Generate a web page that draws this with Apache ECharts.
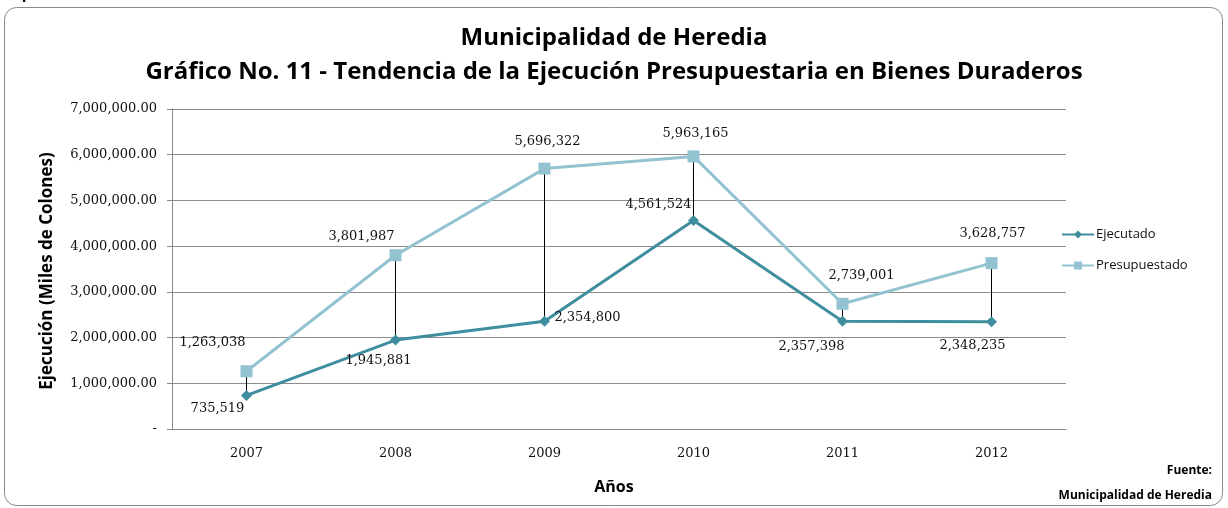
<!DOCTYPE html>
<html>
<head>
<meta charset="utf-8">
<script src="https://cdn.jsdelivr.net/npm/echarts@6/dist/echarts.min.js"></script>
<style>
html,body{margin:0;padding:0;background:#fff;}
#chart{width:1228px;height:508px;}
</style>
</head>
<body>
<div id="chart"></div>
<script>
// ---- data ----
const years = ['2007', '2008', '2009', '2010', '2011', '2012'];
const ejecutado = [735519, 1945881, 2354800, 4561524, 2357398, 2348235];
const presupuestado = [1263038, 3801987, 5696322, 5963165, 2739001, 3628757];
const yTicks = [0, 1000000, 2000000, 3000000, 4000000, 5000000, 6000000, 7000000];

// ---- label layout (pixel offsets, not data) ----
const presOffsets = [[-34, -16], [-34, -6], [3, -14], [2, -10], [19, -16], [1, -17]];
const ejecOffsets = [[-29, 25], [-17, 33], [43, 8], [-35, -4], [-31, 37], [-19, 36]];

const fmtInt = v => Math.round(v).toLocaleString('en-US');
const fmtTick = v => v === 0 ? '-' : v.toLocaleString('en-US', {minimumFractionDigits: 2, maximumFractionDigits: 2});

const serif = 'DejaVu Serif';
const sans = 'Open Sans';
const cEj = '#3f8e9f';
const cPr = '#93c3d1';

const chart = echarts.init(document.getElementById('chart'), null, {renderer: 'canvas'});

const labelBase = {show: true, position: 'top', distance: 0, fontFamily: serif, fontSize: 13, color: '#111'};

chart.setOption({
  animation: false,
  backgroundColor: '#fff',
  grid: {left: 172, right: 162, top: 109, bottom: 79},
  xAxis: {
    type: 'category',
    data: years,
    boundaryGap: true,
    axisLine: {lineStyle: {color: '#888', width: 1}},
    axisTick: {show: false},
    axisLabel: {fontFamily: serif, fontSize: 13, color: '#111', margin: 18}
  },
  yAxis: {
    type: 'value',
    min: yTicks[0],
    max: yTicks[yTicks.length - 1],
    interval: yTicks[1] - yTicks[0],
    axisLine: {show: true, lineStyle: {color: '#888'}},
    axisTick: {show: true, length: 5, lineStyle: {color: '#888'}},
    splitLine: {lineStyle: {color: '#8c8c8c', width: 1}},
    axisLabel: {fontFamily: serif, fontSize: 13, color: '#111', margin: 15, formatter: fmtTick}
  },
  legend: {
    orient: 'vertical',
    left: 1056,
    top: 223,
    itemWidth: 32,
    itemHeight: 10,
    itemGap: 18,
    textStyle: {fontFamily: sans, fontSize: 13, color: '#111', padding: [0, 0, 0, -3]},
    data: ['Ejecutado', 'Presupuestado']
  },
  series: [
    {
      name: 'Presupuestado',
      type: 'line',
      data: presupuestado.map((v, i) => ({value: v, label: {offset: presOffsets[i]}})),
      symbol: 'rect',
      symbolSize: 12,
      itemStyle: {color: cPr},
      lineStyle: {color: cPr, width: 3},
      z: 3,
      label: Object.assign({}, labelBase, {formatter: p => fmtInt(p.value)}),
      markLine: {
        silent: true,
        symbol: 'none',
        label: {show: false},
        lineStyle: {color: '#000', width: 1, type: 'solid'},
        z: 1,
        data: years.map((y, i) => [{coord: [i, presupuestado[i]]}, {coord: [i, ejecutado[i]]}])
      }
    },
    {
      name: 'Ejecutado',
      type: 'line',
      data: ejecutado.map((v, i) => ({value: v, label: {offset: ejecOffsets[i]}})),
      symbol: 'diamond',
      symbolSize: 11,
      itemStyle: {color: cEj},
      lineStyle: {color: cEj, width: 3},
      z: 4,
      label: Object.assign({}, labelBase, {formatter: p => fmtInt(p.value)})
    }
  ],
  graphic: [
    {type: 'rect', shape: {x: 4.5, y: 7.5, width: 1218, height: 498, r: 12}, style: {fill: 'none', stroke: '#8a8a8a', lineWidth: 1}, z: -1},
    {type: 'text', left: 0, top: -14, style: {text: 'Superficies.', font: 'bold 17px "Liberation Sans"', fill: '#000'}},
    {type: 'text', x: 614, y: 38, style: {text: 'Municipalidad de Heredia', font: 'bold 24px "Open Sans"', fill: '#000', align: 'center', verticalAlign: 'middle'}},
    {type: 'text', x: 614, y: 72, style: {text: 'Gráfico No. 11 - Tendencia de la Ejecución Presupuestaria en Bienes Duraderos', font: 'bold 24px "Open Sans"', fill: '#000', align: 'center', verticalAlign: 'middle'}},
    {type: 'text', x: 47, y: 271, rotation: Math.PI / 2, style: {text: 'Ejecución (Miles de Colones)', font: 'bold 17px "Open Sans"', fill: '#000', align: 'center', verticalAlign: 'middle'}},
    {type: 'text', x: 614, y: 487, style: {text: 'Años', font: 'bold 16px "Open Sans"', fill: '#000', align: 'center', verticalAlign: 'middle'}},
    {type: 'text', x: 1212, y: 471, style: {text: 'Fuente:', font: 'bold 12px "Open Sans"', fill: '#000', align: 'right', verticalAlign: 'middle'}},
    {type: 'text', x: 1212, y: 496, style: {text: 'Municipalidad de Heredia', font: 'bold 12px "Open Sans"', fill: '#000', align: 'right', verticalAlign: 'middle'}}
  ]
});
</script>
</body>
</html>
